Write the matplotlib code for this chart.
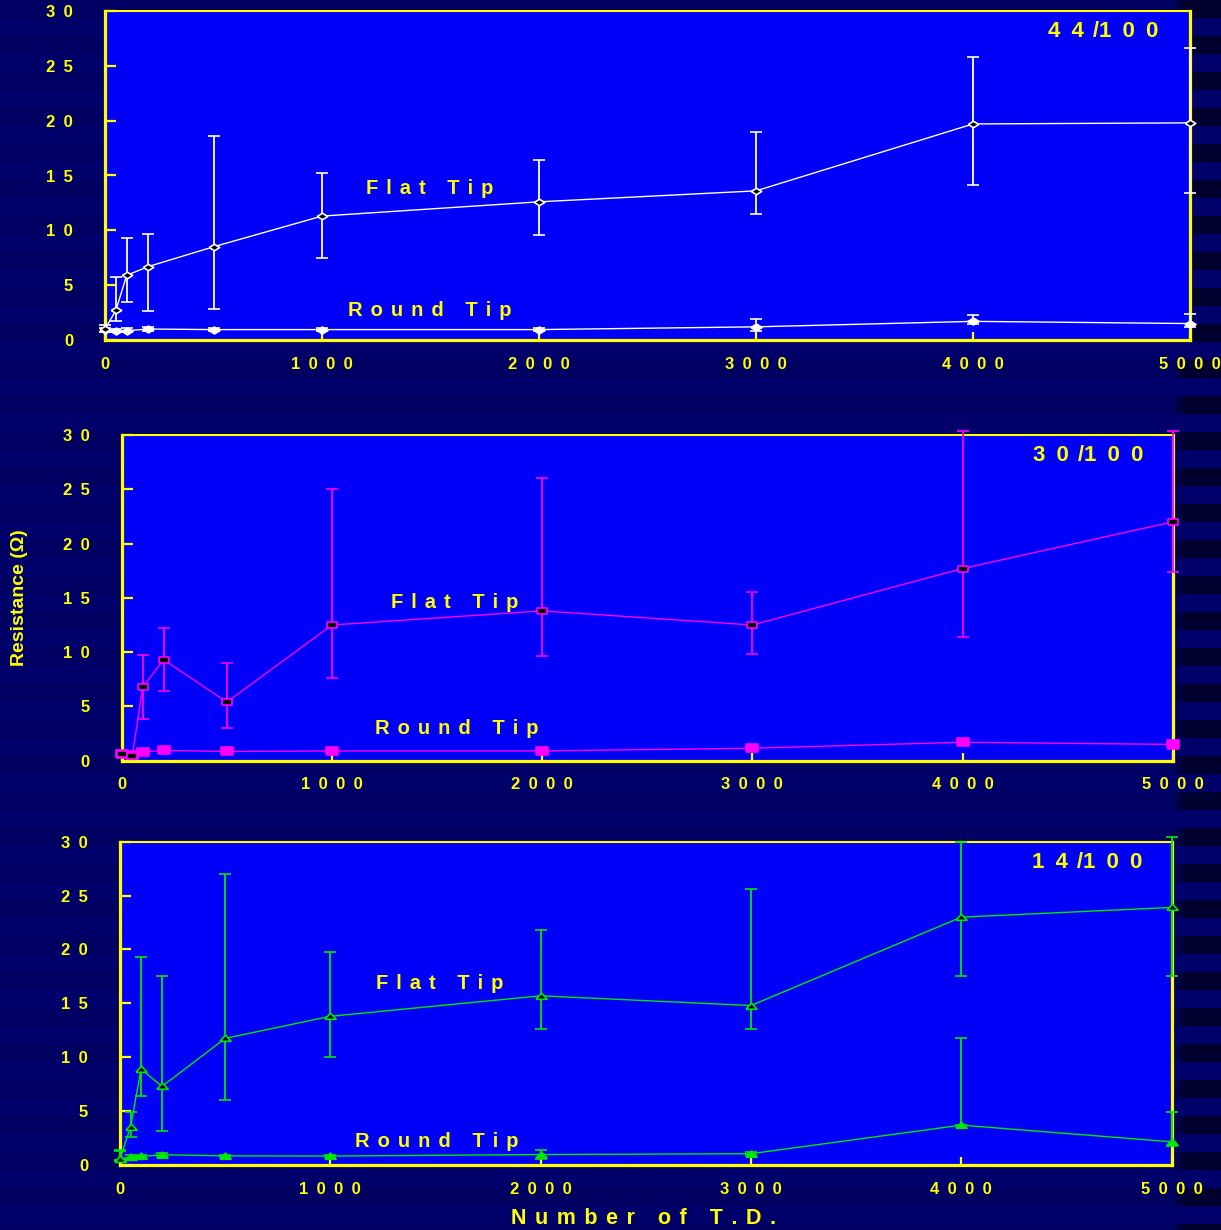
import numpy as np
import matplotlib
matplotlib.use("Agg")
import matplotlib.pyplot as plt

plt.rcParams['font.family'] = ['Liberation Sans', 'DejaVu Sans']
plt.rcParams['font.weight'] = 'bold'

# number of touchdowns
td = [0, 50, 100, 200, 500, 1000, 2000, 3000, 4000, 5000]

# 44/100 panel
flat_44 = [1.0, 2.7, 5.9, 6.7, 8.5, 11.3, 12.6, 13.6, 19.7, 19.8]
flat_44_lo = [0.7, 1.7, 3.5, 2.6, 2.8, 7.5, 9.6, 11.5, 14.1, 13.4]
flat_44_hi = [1.4, 5.7, 9.3, 9.7, 18.6, 15.2, 16.4, 19.0, 25.8, 26.6]
round_44 = [0.9, 0.8, 0.85, 1.0, 0.95, 0.95, 0.95, 1.2, 1.7, 1.5]
round_44_lo = [0.7, 0.7, 0.7, 0.8, 0.8, 0.8, 0.85, 0.85, 1.45, 1.2]
round_44_hi = [1.1, 1.0, 1.1, 1.2, 1.1, 1.1, 1.05, 1.9, 2.3, 2.4]

# 30/100 panel
flat_30 = [0.6, 0.4, 6.8, 9.3, 5.4, 12.5, 13.8, 12.5, 17.7, 22.0]
flat_30_lo = [0.5, 0.3, 3.8, 6.4, 3.0, 7.6, 9.6, 9.8, 11.4, 17.4]
flat_30_hi = [0.7, 0.5, 9.7, 12.2, 9.0, 25.0, 26.0, 15.5, 30.4, 30.4]
round_30 = [0.6, 0.5, 0.8, 0.95, 0.85, 0.9, 0.9, 1.15, 1.7, 1.5]
round_30_lo = [0.5, 0.4, 0.7, 0.8, 0.75, 0.75, 0.8, 1.0, 1.5, 1.1]
round_30_hi = [0.7, 0.6, 0.9, 1.1, 0.95, 1.1, 1.0, 1.3, 1.9, 1.6]

# 14/100 panel
flat_14 = [0.6, 3.5, 8.9, 7.3, 11.75, 13.8, 15.7, 14.8, 23.0, 23.9]
flat_14_lo = [0.5, 2.6, 6.4, 3.2, 6.0, 10.0, 12.6, 12.6, 17.5, 17.5]
flat_14_hi = [1.3, 4.9, 19.3, 17.5, 27.0, 19.8, 21.8, 25.6, 30.0, 30.4]
round_14 = [0.55, 0.75, 0.8, 0.95, 0.85, 0.83, 0.97, 1.05, 3.7, 2.15]
round_14_lo = [0.5, 0.65, 0.7, 0.8, 0.75, 0.7, 0.6, 0.9, 3.7, 1.8]
round_14_hi = [1.35, 0.9, 0.95, 1.1, 0.95, 0.95, 1.4, 1.2, 11.75, 4.9]

xticks = [0, 1000, 2000, 3000, 4000, 5000]
yticks = [0, 5, 10, 15, 20, 25, 30]

yellow = '#ffff00'
W, H = 1221, 1230


def spaced(s, gap='\u2009\u2009'):
    return gap.join(s)


def num(v):
    return '\u2002'.join(str(v))


diamond = np.array([(-1, 0), (0, 0.62), (1, 0), (0, -0.62), (-1, 0)])
rect = np.array([(-1, -0.65), (1, -0.65), (1, 0.65), (-1, 0.65), (-1, -0.65)])
tri = np.array([(-1, -0.5), (1, -0.5), (0, 0.6), (-1, -0.5)])

fig = plt.figure(figsize=(W / 100, H / 100), dpi=100)
fig.patch.set_facecolor('#00006a')

# striped slide background, strong stripes only along the right edge
bg = fig.add_axes([0, 0, 1, 1], zorder=-5)
yy = np.arange(H)[:, None]
xx = np.arange(W)[None, :]
stripe = ((yy // 18) % 2 == 0).astype(float)
amp = 0.035 + 0.2 * np.clip((xx - 1172) / 12, 0, 1)
blue = 0.42 - amp * stripe
img = np.zeros((H, W, 3))
img[..., 2] = blue
bg.imshow(img, aspect='auto', interpolation='nearest')
bg.axis('off')

panels = [
    dict(pos=[105, 11, 1190, 340], color='white', m=diamond, ms_f=7.5, ms_r=8.0,
         flat=(flat_44, flat_44_lo, flat_44_hi), rnd=(round_44, round_44_lo, round_44_hi),
         label='44/100', flat_xy=(1498, 13.8), round_xy=(1498, 2.7)),
    dict(pos=[121.7, 435, 1172.7, 760.7], color='#ff00ff', m=rect, ms_f=7.0, ms_r=8.4,
         flat=(flat_30, flat_30_lo, flat_30_hi), rnd=(round_30, round_30_lo, round_30_hi),
         label='30/100', flat_xy=(1586, 14.6), round_xy=(1595, 3.0)),
    dict(pos=[120, 841.7, 1171.7, 1165], color='#00e800', m=tri, ms_f=8.0, ms_r=8.0,
         flat=(flat_14, flat_14_lo, flat_14_hi), rnd=(round_14, round_14_lo, round_14_hi),
         label='14/100', flat_xy=(1522, 16.8), round_xy=(1507, 2.2)),
]

for p in panels:
    x0, y0, x1, y1 = p['pos']
    ax = fig.add_axes([x0 / W, 1 - y1 / H, (x1 - x0) / W, (y1 - y0) / H])
    ax.set_facecolor('#0000f8')
    ax.set_xlim(0, 5000)
    ax.set_ylim(0, 30)
    c = p['color']

    for key, face, ms in (('rnd', c, p['ms_r']), ('flat', 'black', p['ms_f'])):
        y, lo, hi = [np.array(a) for a in p[key]]
        cont = ax.errorbar(td, y, yerr=[y - lo, hi - y], color=c, lw=1.0,
                           elinewidth=1.3, capsize=4.5, capthick=1.3,
                           marker=p['m'], ms=ms, mfc=face, mec=c, mew=1.2,
                           zorder=3)
        cont[0].set_clip_on(False)
        for art in list(cont[1]) + list(cont[2]):
            art.set_clip_on(False)

    for side in ('left', 'bottom', 'right'):
        ax.spines[side].set_color(yellow)
        ax.spines[side].set_linewidth(2.3)
    ax.spines['top'].set_color(yellow)
    ax.spines['top'].set_linewidth(1.5)

    ax.set_xticks(xticks, [num(v) for v in xticks])
    ax.set_yticks(yticks, [num(v) for v in yticks])
    ax.tick_params(axis='x', direction='in', length=5.5, width=1.6, colors=yellow,
                   labelsize=12, pad=12)
    ax.tick_params(axis='y', direction='in', length=8, width=1.6, colors=yellow,
                   labelsize=12, pad=23)
    for lab in ax.get_xticklabels() + ax.get_yticklabels():
        lab.set_fontweight('bold')

    ax.text(*p['flat_xy'], spaced('Flat Tip'), color=yellow, fontsize=14.5,
            fontweight='bold', ha='center', va='center')
    ax.text(*p['round_xy'], spaced('Round Tip'), color=yellow, fontsize=14.5,
            fontweight='bold', ha='center', va='center')
    ax.text(4598, 28.1, num(p['label']).replace('\u2002/\u2002', '\u2009\u2009/'),
            color=yellow, fontsize=16, fontweight='bold', ha='center', va='center')

fig.text(20 / W, 1 - 598 / H, 'Resistance (\u03a9)', rotation=90, color=yellow,
         fontsize=14, fontweight='bold', ha='center', va='center')
fig.text(644 / W, 1 - 1219 / H, spaced('Number of T.D.'), color=yellow,
         fontsize=15.5, fontweight='bold', ha='center', va='center')

fig.savefig('out.png', dpi=100, facecolor=fig.get_facecolor())
